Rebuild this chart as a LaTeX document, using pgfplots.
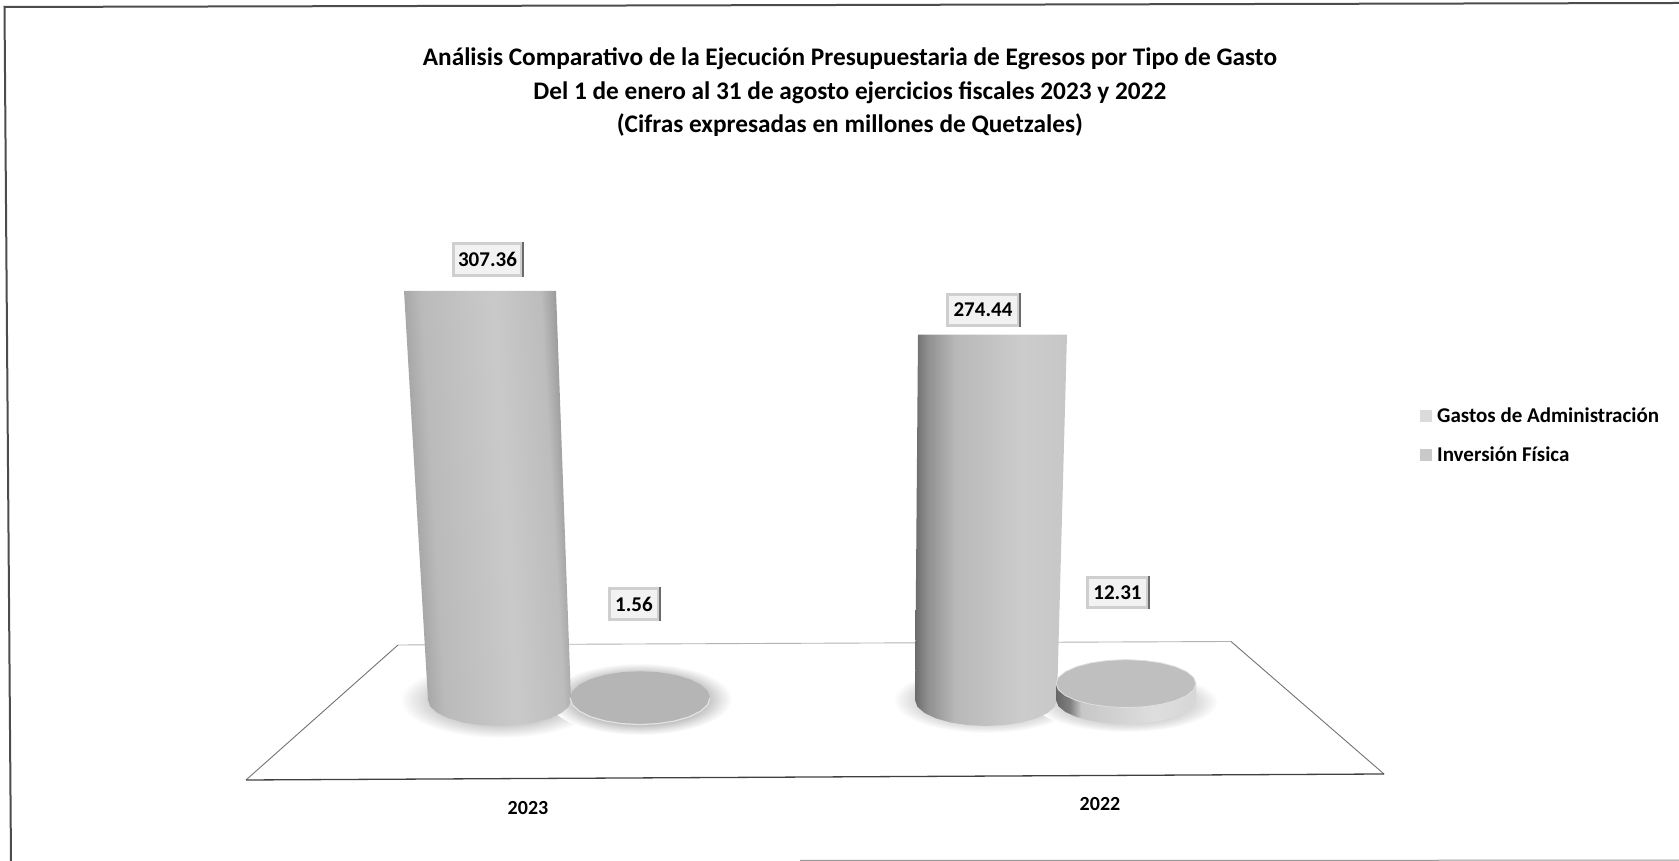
\documentclass[border=0pt]{standalone}
\usepackage{fontspec}
\setmainfont{Carlito}
\usepackage{pgfplots}
\pgfplotsset{compat=1.18}
\pgfdeclarehorizontalshading{colA}{100bp}{gray(0bp)=(.45); gray(25bp)=(.45); gray(28bp)=(.62); gray(35bp)=(.73); gray(55bp)=(.79); gray(68bp)=(.74); gray(75bp)=(.52); gray(100bp)=(.52)}
\pgfdeclarehorizontalshading{colB}{100bp}{gray(0bp)=(.42); gray(25bp)=(.42); gray(29bp)=(.56); gray(38bp)=(.72); gray(60bp)=(.8); gray(75bp)=(.78); gray(100bp)=(.78)}
\pgfdeclarehorizontalshading{diskside}{100bp}{gray(0bp)=(.4); gray(25bp)=(.4); gray(30bp)=(.5); gray(34bp)=(.78); gray(60bp)=(.87); gray(75bp)=(.84); gray(100bp)=(.84)}
\pgfdeclareradialshading{shad}{\pgfpointorigin}{gray(0bp)=(.66); gray(13bp)=(.72); gray(20bp)=(.88); gray(25bp)=(1); gray(50bp)=(1)}
\pgfdeclareradialshading{shaddisk}{\pgfpointorigin}{gray(0bp)=(.70); gray(17bp)=(.72); gray(22bp)=(.9); gray(25bp)=(1); gray(50bp)=(1)}
\pgfdeclareradialshading{shadlight}{\pgfpointorigin}{gray(0bp)=(.74); gray(15bp)=(.78); gray(21bp)=(.9); gray(25bp)=(1); gray(50bp)=(1)}
\newcommand\lbl[5]{%
  \node[draw=gray!38,line width=3pt,fill=gray!10,minimum width=#3pt,minimum height=#4pt,inner sep=0pt,
        font=\fontsize{21}{23}\selectfont\bfseries,text=black] (L) at (axis cs:#1,#2) {#5};
  \draw[black!58,line width=1.8pt] (L.north east) -- (L.south east);
}
\begin{document}
\begin{tikzpicture}[x=1pt,y=1pt]
\useasboundingbox (0,0) rectangle (1679,861);
% frame
\draw[black!70,line width=2pt] (11,0) -- (4.5,854) -- (1679,858);
\draw[black!40,line width=1pt] (800,.6) -- (1679,.8);
% floor
\draw[gray!60,line width=.9pt] (398,216) -- (1231,219.5);
\draw[black!55,line width=.9pt] (398,216) -- (246,81);
\draw[black!55,line width=.9pt] (1231,219.5) -- (1384,87);
\draw[black!75,line width=1.3pt] (246,81) -- (1384,87);
% shadows on the floor
\shade[shading=shad] (500,161) ellipse (100 and 38);
\shade[shading=shaddisk] (640,162) ellipse (92 and 36);
\shade[shading=shadlight] (986,161) ellipse (93 and 33);
\shade[shading=shadlight] (1126,159) ellipse (92 and 30);
\begin{axis}[
  at={(0pt,0pt)},anchor=south west,
  scale only axis,width=1679pt,height=861pt,
  xmin=0,xmax=1679,ymin=-120.96,ymax=525.92,
  axis line style={draw=none},tick style={draw=none},
  ytick=\empty,
  xtick={528},xticklabels={2023},
  extra x ticks={1100},extra x tick labels={2022},
  extra x tick style={xticklabel style={yshift=4pt}},
  xticklabel style={anchor=center,yshift=53pt,font=\fontsize{20}{22}\selectfont\bfseries},
  title={Análisis Comparativo de la Ejecución Presupuestaria de Egresos por Tipo de Gasto\\Del 1 de enero al 31 de agosto ejercicios fiscales 2023 y 2022\\(Cifras expresadas en millones de Quetzales)},
  title style={at={(axis description cs:0.5062,1)},anchor=north,yshift=-50pt,align=center,font=\fontsize{25.3}{33.7}\selectfont\bfseries},
  legend style={at={(axis description cs:0.8457,0.529)},anchor=north west,draw=none,fill=none,inner sep=0pt,
     font=\fontsize{21}{23}\selectfont\bfseries,row sep=19pt},
  legend cell align=left,
  clip=false,
]
% Gastos de Administracion 2023
\addplot[draw=none,shade,shading=colA,shading angle=3.3,
  legend image code/.code={\pgfsetfillcolor{gray!28}\pgfpathrectangle{\pgfpoint{0pt}{-6pt}}{\pgfpoint{12pt}{12pt}}\pgfusepath{fill}\pgfpathrectangle{\pgfpoint{0pt}{0pt}}{\pgfpoint{15pt}{0pt}}\pgfusepath{use as bounding box}}]
  coordinates {(404,307.36)(556,307.36)(571,0)(568.6,-5.05)(561.4,-9.75)(550.1,-13.79)(535.3,-16.89)(518,-18.84)(499.5,-19.5)(481,-18.84)(463.7,-16.89)(448.9,-13.79)(437.6,-9.75)(430.4,-5.05)(428,0)};
\addlegendentry{Gastos de Administración}
% Inversion Fisica 2023
\addplot[draw=none,fill=gray!58!white,
  legend image code/.code={\pgfsetfillcolor{gray!42}\pgfpathrectangle{\pgfpoint{0pt}{-6pt}}{\pgfpoint{12pt}{12pt}}\pgfusepath{fill}\pgfpathrectangle{\pgfpoint{0pt}{0pt}}{\pgfpoint{15pt}{0pt}}\pgfusepath{use as bounding box}}]
  coordinates {(710,1.56)(707.6,6.74)(700.6,11.56)(689.5,15.7)(675,18.88)(658.1,20.88)(640,21.56)(621.9,20.88)(605,18.88)(590.5,15.7)(579.4,11.56)(572.4,6.74)(570,1.56)(572.4,-3.62)(579.4,-8.44)(590.5,-12.58)(605,-15.76)(621.9,-17.76)(640,-18.44)(658.1,-17.76)(675,-15.76)(689.5,-12.58)(700.6,-8.44)(707.6,-3.62)};
\addlegendentry{Inversión Física}
\addplot[forget plot,draw=gray!22,line width=1.2pt]
  coordinates {(570,1.56)(572.4,-3.62)(579.4,-8.44)(590.5,-12.58)(605,-15.76)(621.9,-17.76)(640,-18.44)(658.1,-17.76)(675,-15.76)(689.5,-12.58)(700.6,-8.44)(707.6,-3.62)(710,1.56)};
% Gastos de Administracion 2022
\addplot[forget plot,draw=none,shade,shading=colB,shading angle=0]
  coordinates {(918,274.44)(1067,274.44)(1057,0)(1054.6,-5.05)(1047.5,-9.75)(1036.2,-13.79)(1021.5,-16.89)(1004.4,-18.84)(986,-19.5)(967.6,-18.84)(950.5,-16.89)(935.8,-13.79)(924.5,-9.75)(917.4,-5.05)(915,0)};
% Inversion Fisica 2022: side, then top
\addplot[forget plot,draw=none,shade,shading=diskside]
  coordinates {(1056,12.31)(1056,0)(1058.4,-4.66)(1065.4,-9)(1076.5,-12.73)(1091,-15.59)(1107.9,-17.39)(1126,-18)(1144.1,-17.39)(1161,-15.59)(1175.5,-12.73)(1186.6,-9)(1193.6,-4.66)(1196,0)(1196,12.31)};
\addplot[forget plot,draw=gray!25,line width=.8pt,fill=gray!50!white]
  coordinates {(1196,12.31)(1193.6,16.97)(1186.6,21.31)(1175.5,25.04)(1161,27.9)(1144.1,29.7)(1126,30.31)(1107.9,29.7)(1091,27.9)(1076.5,25.04)(1065.4,21.31)(1058.4,16.97)(1056,12.31)(1058.4,7.65)(1065.4,3.31)(1076.5,-.42)(1091,-3.28)(1107.9,-5.08)(1126,-5.69)(1144.1,-5.08)(1161,-3.28)(1175.5,-.42)(1186.6,3.31)(1193.6,7.65)(1196,12.31)};
\lbl{487.5}{331}{68}{32}{307.36}
\lbl{983}{293}{71}{31}{274.44}
\lbl{634}{72.1}{49}{31}{1.56}
\lbl{1117.5}{80.8}{60}{30}{12.31}
\end{axis}
\end{tikzpicture}
\end{document}
